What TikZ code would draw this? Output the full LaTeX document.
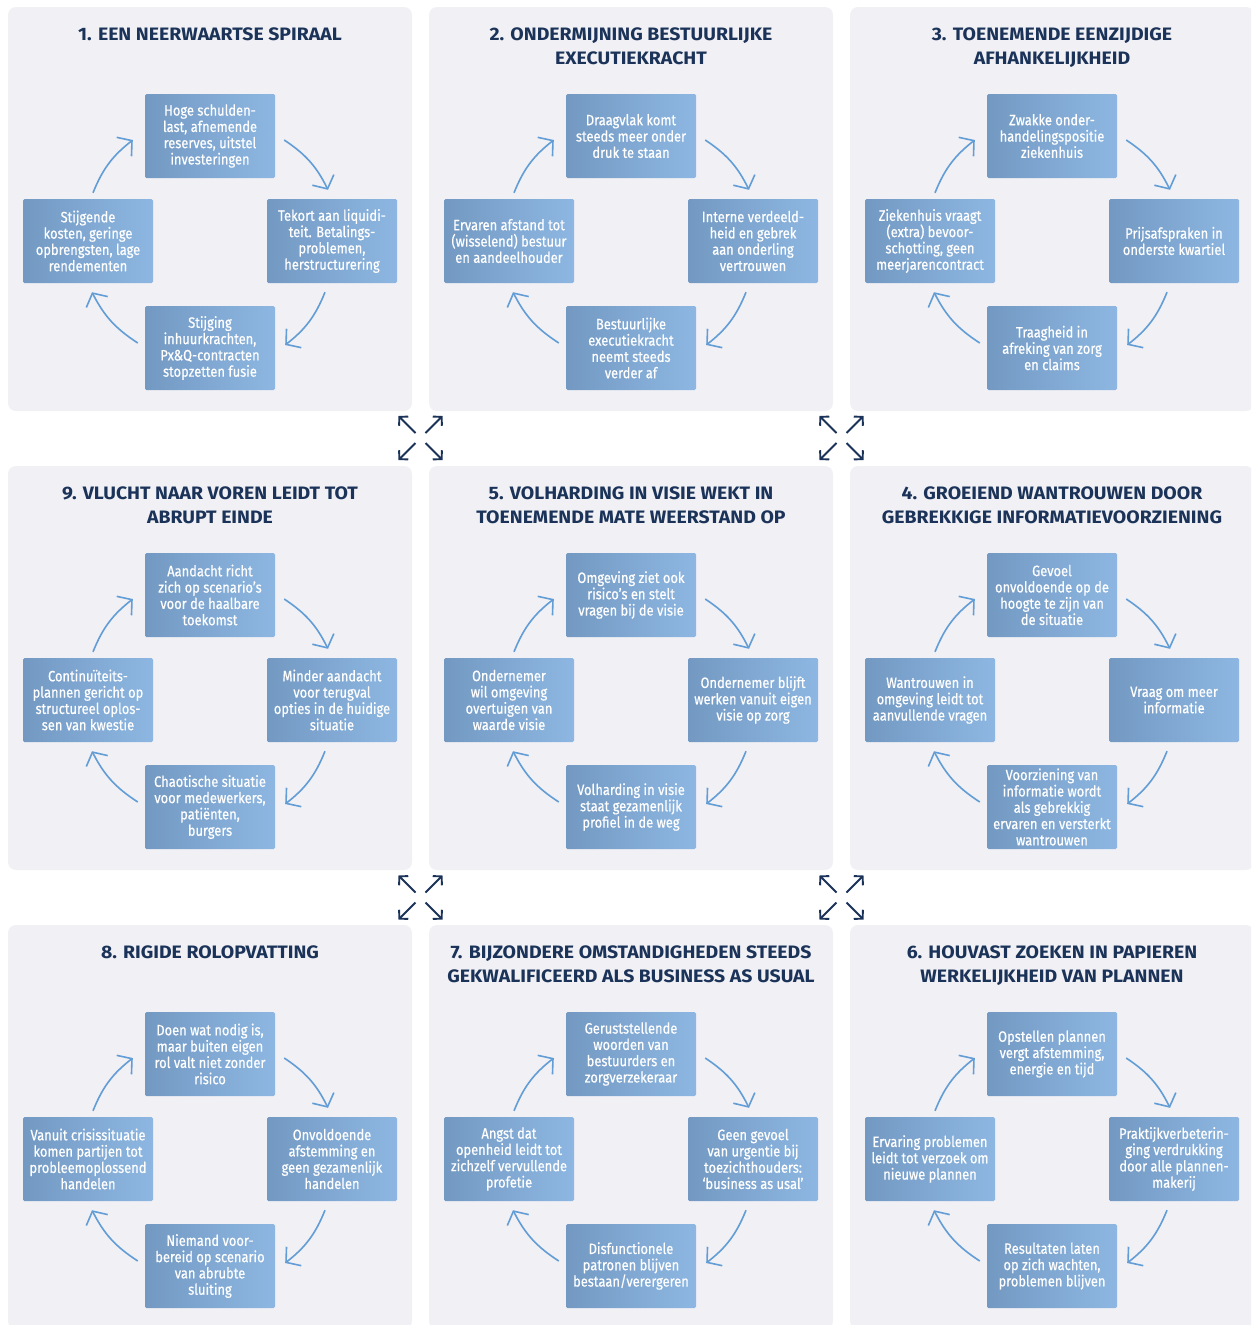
\documentclass[tikz,border=0pt]{standalone}
\usepackage{fontspec}
\setmainfont{Fira Sans}
\newfontfamily\boxfont[FakeStretch=0.86,FakeBold=0.5]{Fira Sans}
\newfontfamily\titlefont[FakeStretch=1.08]{Fira Sans}
\usepackage{tikz}
\usetikzlibrary{arrows.meta,positioning}

\definecolor{panelbg}{HTML}{F0F0F5}
\definecolor{navy}{HTML}{1B3358}
\definecolor{boxdark}{HTML}{7399C2}
\definecolor{boxlight}{HTML}{8DB7E2}
\definecolor{arrowblue}{HTML}{629DD6}

% one panel: name, centre x, top y, title, top/right/bottom/left box
\newcommand{\cyclepanel}[8]{%
  \fill[panelbg,rounded corners=8] (#2-202,#3) rectangle (#2+202,#3-404);
  \node[paneltitle] (#1-title) at (#2,#3-20.5) {#4};
  \node[cyclebox] (#1-t) at (#2,#3-129) {#5};
  \node[cyclebox] (#1-r) at (#2+122,#3-234) {#6};
  \node[cyclebox] (#1-b) at (#2,#3-341) {#7};
  \node[cyclebox] (#1-l) at (#2-122,#3-234) {#8};
  \draw[cyclearrow] ([shift={(5,6)}]#1-l.north) to[bend left=15] ([shift={(-12,-4)}]#1-t.west);
  \draw[cyclearrow] ([shift={(9,-4)}]#1-t.east) to[bend left=15] ([shift={(-4,9)}]#1-r.north);
  \draw[cyclearrow] ([shift={(-7,-9)}]#1-r.south) to[bend left=15] ([shift={(10,3)}]#1-b.east);
  \draw[cyclearrow] ([shift={(-7,5)}]#1-b.west) to[bend left=15] ([shift={(4,-9)}]#1-l.south);
}

\begin{document}
\begin{tikzpicture}[x=1pt,y=1pt]
    \tikzstyle{cyclebox}=[left color=boxdark,right color=boxlight,
      rounded corners=1.5,text=white,align=center,inner xsep=4,
      minimum width=130,minimum height=84,
      font=\boxfont\fontsize{15}{16.3}\selectfont]
    \tikzstyle{paneltitle}=[anchor=north,inner sep=0,align=center,text=navy,
      font=\titlefont\bfseries\fontsize{18}{24}\selectfont]
    \tikzstyle{cyclearrow}=[draw=arrowblue,line width=1.6,
      -{Straight Barb[length=10,width=24]}]
    \tikzstyle{hubarrow}=[draw=navy,line width=1.9,
      -{Straight Barb[length=6,width=13]}]

    \useasboundingbox (0,0) rectangle (1251,-1325);
    \clip (0,0) rectangle (1251,-1325);

    % first row
    \cyclepanel{p1}{210}{-7}{1. EEN NEERWAARTSE SPIRAAL}
      {Hoge schulden-\\last, afnemende\\reserves, uitstel\\investeringen}
      {Tekort aan liquidi-\\teit. Betalings-\\problemen,\\herstructurering}
      {Stijging\\inhuurkrachten,\\Px\&Q-contracten\\stopzetten fusie}
      {Stijgende\\kosten, geringe\\opbrengsten, lage\\rendementen}
    \cyclepanel{p2}{631}{-7}{2. ONDERMIJNING BESTUURLIJKE\\EXECUTIEKRACHT}
      {Draagvlak komt\\steeds meer onder\\druk te staan}
      {Interne verdeeld-\\heid en gebrek\\aan onderling\\vertrouwen}
      {Bestuurlijke\\executiekracht\\neemt steeds\\verder af}
      {Ervaren afstand tot\\(wisselend) bestuur\\en aandeelhouder}
    \cyclepanel{p3}{1052}{-7}{3. TOENEMENDE EENZIJDIGE\\AFHANKELIJKHEID}
      {Zwakke onder-\\handelingspositie\\ziekenhuis}
      {Prijsafspraken in\\onderste kwartiel}
      {Traagheid in\\afreking van zorg\\en claims}
      {Ziekenhuis vraagt\\(extra) bevoor-\\schotting, geen\\meerjarencontract}

    % second row
    \cyclepanel{p9}{210}{-466}{9. VLUCHT NAAR VOREN LEIDT TOT\\ABRUPT EINDE}
      {Aandacht richt\\zich op scenario’s\\voor de haalbare\\toekomst}
      {Minder aandacht\\voor terugval\\opties in de huidige\\situatie}
      {Chaotische situatie\\voor medewerkers,\\patiënten,\\burgers}
      {Continuïteits-\\plannen gericht op\\structureel oplos-\\sen van kwestie}
    \cyclepanel{p5}{631}{-466}{5. VOLHARDING IN VISIE WEKT IN\\TOENEMENDE MATE WEERSTAND OP}
      {Omgeving ziet ook\\risico’s en stelt\\vragen bij de visie}
      {Ondernemer blijft\\werken vanuit eigen\\visie op zorg}
      {Volharding in visie\\staat gezamenlijk\\profiel in de weg}
      {Ondernemer\\wil omgeving\\overtuigen van\\waarde visie}
    \cyclepanel{p4}{1052}{-466}{4. GROEIEND WANTROUWEN DOOR\\GEBREKKIGE INFORMATIEVOORZIENING}
      {Gevoel\\onvoldoende op de\\hoogte te zijn van\\de situatie}
      {Vraag om meer\\informatie}
      {Voorziening van\\informatie wordt\\als gebrekkig\\ervaren en versterkt\\wantrouwen}
      {Wantrouwen in\\omgeving leidt tot\\aanvullende vragen}

    % third row
    \cyclepanel{p8}{210}{-925}{8. RIGIDE ROLOPVATTING}
      {Doen wat nodig is,\\maar buiten eigen\\rol valt niet zonder\\risico}
      {Onvoldoende\\afstemming en\\geen gezamenlijk\\handelen}
      {Niemand voor-\\bereid op scenario\\van abrubte\\sluiting}
      {Vanuit crisissituatie\\komen partijen tot\\probleemoplossend\\handelen}
    \cyclepanel{p7}{631}{-925}{7. BIJZONDERE OMSTANDIGHEDEN STEEDS\\GEKWALIFICEERD ALS BUSINESS AS USUAL}
      {Geruststellende\\woorden van\\bestuurders en\\zorgverzekeraar}
      {Geen gevoel\\van urgentie bij\\toezichthouders:\\‘business as usal’}
      {Disfunctionele\\patronen blijven\\bestaan/verergeren}
      {Angst dat\\openheid leidt tot\\zichzelf vervullende\\profetie}
    \cyclepanel{p6}{1052}{-925}{6. HOUVAST ZOEKEN IN PAPIEREN\\WERKELIJKHEID VAN PLANNEN}
      {Opstellen plannen\\vergt afstemming,\\energie en tijd}
      {Praktijkverbeterin-\\ging verdrukking\\door alle plannen-\\makerij}
      {Resultaten laten\\op zich wachten,\\problemen blijven}
      {Ervaring problemen\\leidt tot verzoek om\\nieuwe plannen}

    % expand icons between the panels
    \coordinate (hubA) at (420.5,-438);
    \coordinate (hubB) at (841.5,-438);
    \coordinate (hubC) at (420.5,-897.5);
    \coordinate (hubD) at (841.5,-897.5);
    \foreach \h in {hubA,hubB,hubC,hubD}
      \foreach \sx/\sy in {-1/1,1/1,-1/-1,1/-1}
        \draw[hubarrow] ([shift={(5*\sx,5*\sy)}]\h) -- ([shift={(22*\sx,22*\sy)}]\h);
\end{tikzpicture}
\end{document}
